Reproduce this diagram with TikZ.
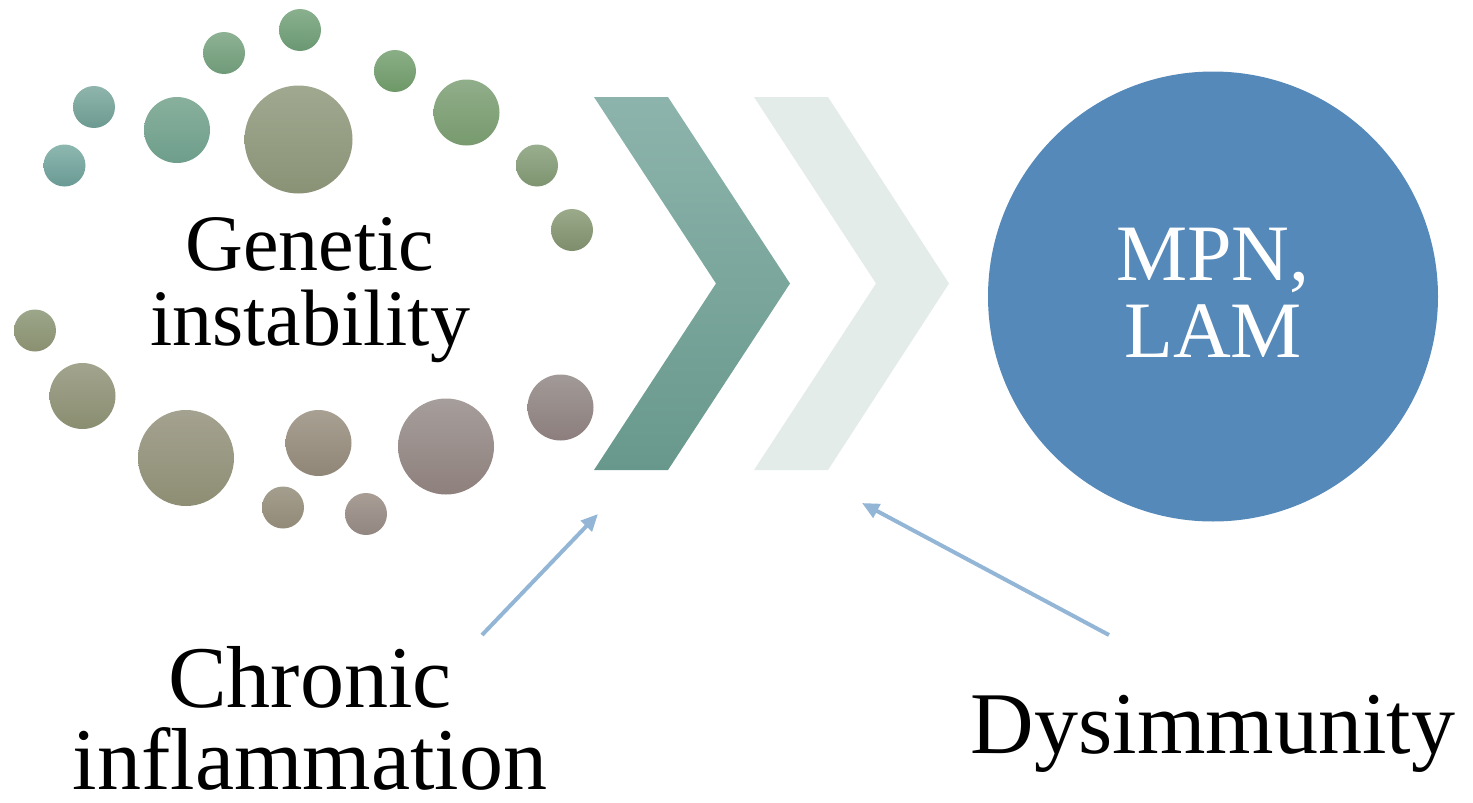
\documentclass[tikz,border=0pt]{standalone}
\usepackage{fontspec}
\setmainfont{Liberation Serif}
\usetikzlibrary{arrows.meta}

\definecolor{mpnblue}{HTML}{5589B9}
\definecolor{arrowblue}{HTML}{94B6D6}
\definecolor{chevA}{HTML}{8DB4AC}
\definecolor{chevB}{HTML}{68988C}
\definecolor{chevpale}{HTML}{E3ECE9}

\tikzset{
  bead/.style={circle, inner sep=0pt, minimum size=#1},
  shadeTB/.code 2 args={%
    \definecolor{hx#1}{HTML}{#1}\definecolor{hx#2}{HTML}{#2}%
    \pgfkeysalso{/tikz/top color=hx#1, /tikz/bottom color=hx#2}},
  label text/.style={inner sep=0pt, align=center},
  cause/.style={draw=arrowblue, line width=4pt, -{Triangle[length=17pt,width=15pt]}},
}

\begin{document}
\begin{tikzpicture}[x=1pt,y=-1pt]
\useasboundingbox (0,0) rectangle (1473,803);

% ring of beads around the first label
\node[bead=42, shadeTB={8AB08E}{6A9872}] (b1) at (300,30) {};
\node[bead=42, shadeTB={8DB294}{6F9A78}] (b2) at (224,53) {};
\node[bead=42, shadeTB={8AAE86}{6E9868}] (b3) at (395,71) {};
\node[bead=42, shadeTB={8FB5AC}{6C9A90}] (b4) at (94,107) {};
\node[bead=66, shadeTB={88B09C}{6E9E8C}] (b5) at (177,130) {};
\node[bead=108,shadeTB={A0A890}{8A9276}] (b6) at (298.5,139.5) {};
\node[bead=66, shadeTB={90AE8A}{789A6E}] (b7) at (466.5,112.5) {};
\node[bead=42, shadeTB={8DB8B0}{6A9A94}] (b8) at (64.5,165.5) {};
\node[bead=42, shadeTB={98AE8E}{7E9470}] (b9) at (537,165.5) {};
\node[bead=42, shadeTB={9AAA8A}{7E8E6C}] (b10) at (572,230) {};
\node[bead=42, shadeTB={9CA68A}{8A9070}] (b11) at (35,330.5) {};
\node[bead=66, shadeTB={A2A48E}{8A8E70}] (b12) at (82.5,396) {};
\node[bead=96, shadeTB={A4A290}{8E8E74}] (b13) at (186,458) {};
\node[bead=66, shadeTB={A8A092}{908678}] (b14) at (318.5,443) {};
\node[bead=96, shadeTB={A69E9C}{8E807C}] (b15) at (446,446.5) {};
\node[bead=66, shadeTB={A29A98}{8C7E7C}] (b16) at (560.5,407.5) {};
\node[bead=42, shadeTB={A49E8E}{928A78}] (b17) at (283,507.5) {};
\node[bead=42, shadeTB={A89E96}{928680}] (b18) at (366,514) {};

% the base anchor of a two-line label sits on its last line
\node[label text, font=\fontsize{80}{75}\selectfont, anchor=base] (genetic) at (310,345) {Genetic\\instability};

% chevrons
\shade[top color=chevA, bottom color=chevB]
  (594,97) -- (668,97) -- (790,283.5) -- (668,470) -- (594,470) -- (716,283.5) -- cycle;
\fill[chevpale]
  (754,97) -- (828,97) -- (949,283.5) -- (828,470) -- (754,470) -- (876,283.5) -- cycle;

% outcome
\node[circle, fill=mpnblue, minimum size=450, inner sep=0pt] (mpn) at (1213,296.5) {};
\node[label text, text=white, font=\fontsize{80}{77}\selectfont, anchor=base]
  (mpntext) at ([yshift=-60.5pt]mpn.center) {MPN,\\LAM};

% contributing factors
\node[label text, text depth=0pt, font=\fontsize{88}{82}\selectfont, anchor=base] (chronic) at (310,789) {Chronic\\inflammation};
\node[label text, font=\fontsize{88}{82}\selectfont, anchor=base] (dysimm) at (1213,753) {Dysimmunity};

\coordinate (tailA) at (482,635);
\coordinate (tipA)  at (598,514);
\coordinate (tailB) at (1109,635);
\coordinate (tipB)  at (862,503);
\draw[cause] (tailA) -- (tipA);
\draw[cause] (tailB) -- (tipB);
\end{tikzpicture}
\end{document}
